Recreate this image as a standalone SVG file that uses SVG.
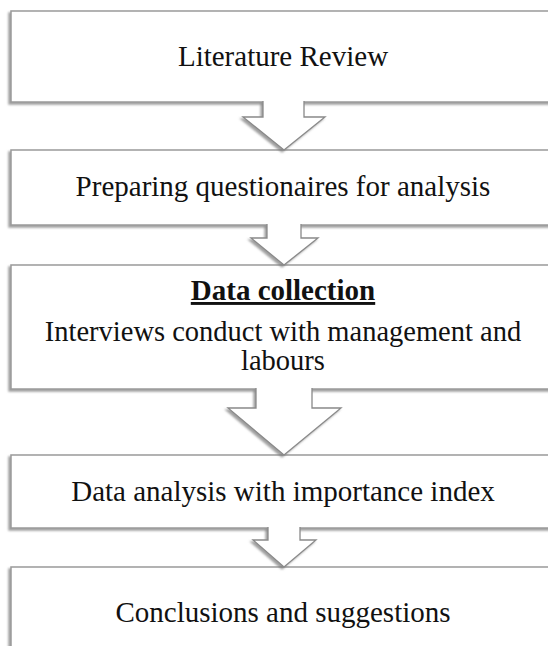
<svg xmlns="http://www.w3.org/2000/svg" width="548" height="646" viewBox="0 0 548 646">
<defs>
<filter id="sh" x="-10%" y="-10%" width="120%" height="130%">
<feDropShadow dx="-2" dy="2" stdDeviation="1.3" flood-color="#777" flood-opacity="0.7"/>
</filter>
<style>
.box{fill:#fff;stroke:#9a9a9a;stroke-width:1.5;filter:url(#sh)}
.arr{fill:#fff;stroke:#8a8a8a;stroke-width:1.3;stroke-linejoin:miter;filter:url(#sh)}
.t{font-family:"Liberation Serif","Times New Roman",serif;font-size:29px;fill:#111;text-anchor:middle}
.s{font-size:28.5px}
.b{font-weight:bold;text-decoration:underline}
</style>
</defs>
<rect width="548" height="646" fill="#fff"/>
<g id="n1"><rect class="box" x="11" y="11" width="560" height="91"/><text class="t" x="283" y="66">Literature Review</text></g>
<g id="n2"><rect class="box" x="11" y="150" width="560" height="75"/><text class="t" x="283" y="196">Preparing questionaires for analysis</text></g>
<g id="n3"><rect class="box" x="11" y="265" width="560" height="124"/><text class="t b" x="283" y="300">Data collection</text><text class="t s" x="283" y="341">Interviews conduct with management and</text><text class="t s" x="283" y="370">labours</text></g>
<g id="n4"><rect class="box" x="11" y="455" width="560" height="73"/><text class="t" x="283" y="501">Data analysis with importance index</text></g>
<g id="n5"><rect class="box" x="11" y="567" width="560" height="100"/><text class="t" x="283" y="622">Conclusions and suggestions</text></g>
<g id="connectors">
<path class="arr" d="M263,101 L263,117 L243,117 L284,150 L325,117 L304,117 L304,101"/>
<path class="arr" d="M267,224 L267,238 L251,238 L284,265 L318,238 L301,238 L301,224"/>
<path class="arr" d="M256,388 L256,408 L228,408 L284,455 L341,408 L312,408 L312,388"/>
<path class="arr" d="M268,527 L268,540 L253,540 L284,567 L316,540 L300,540 L300,527"/>
</g>
</svg>
